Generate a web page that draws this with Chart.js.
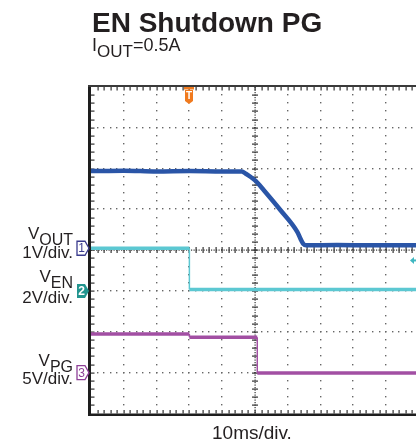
<!DOCTYPE html>
<html>
<head>
<meta charset="utf-8">
<script src="https://cdn.jsdelivr.net/npm/chart.js@4.4.0/dist/chart.umd.min.js"></script>
<style>
body { margin:0; background:#fff; }
#wrap { position:relative; width:416px; height:447px; overflow:hidden; font-family:"Liberation Sans", Arial, sans-serif; color:#231f20; }
#wrap canvas { position:absolute; left:0; top:0; }
.t { position:absolute; white-space:nowrap; line-height:1; }
.lab { right:343px; font-size:17px; text-align:right; }
.sub { position:relative; top:6px; font-size:16px; }
</style>
</head>
<body>
<div id="wrap">
<canvas id="graph" width="416" height="447"></canvas>
<div class="t" style="left:92px; top:9px; font-size:28px; font-weight:bold;">EN Shutdown PG</div>
<div class="t" style="left:92px; top:36px; font-size:18px;">I<span class="sub" style="font-size:17px;">OUT</span>=0.5A</div>
<div class="t lab" style="top:224.5px;">V<span class="sub">OUT</span></div>
<div class="t lab" style="top:244px;">1V/div.</div>
<div class="t lab" style="top:267.5px;">V<span class="sub">EN</span></div>
<div class="t lab" style="top:289px;">2V/div.</div>
<div class="t lab" style="top:352px;">V<span class="sub">PG</span></div>
<div class="t lab" style="top:370px;">5V/div.</div>
<div class="t" style="left:212px; top:423px; font-size:19px;">10ms/div.</div>
</div>
<script>
// time in divisions (10ms/div), level in divisions from the bottom of the screen
const x_max = 9.91;

const vout_x = [0, 1.0, 2.0, 3.0, 4.0, 4.6, 4.71, 4.86, 5.02, 5.27, 5.78, 6.29, 6.40, 6.47, 6.56, 7.5, 8.5, 9.91];
const vout_y = [5.94, 5.95, 5.93, 5.94, 5.93, 5.93, 5.88, 5.80, 5.70, 5.47, 4.98, 4.45, 4.26, 4.16, 4.12, 4.13, 4.12, 4.12];

const ven_x = [0, 3.0, 3.0, 9.91];
const ven_y = [4.05, 4.05, 3.04, 3.04];

const vpg_x = [0, 3.0, 3.0, 5.07, 5.07, 9.91];
const vpg_y = [1.95, 1.95, 1.87, 1.87, 0.99, 0.99];

// channel ground markers (division level) and trigger time
const ch_levels = [4.0, 3.0, 1.0];
const trig_x = 3.0;

function to_pts(xs, ys){
    return xs.map((x, i) => ({x: x, y: ys[i]}));
}

const thin_step = function(w){
    return (c) => c.p0.parsed.x === c.p1.parsed.x ? 1.5 : w;
};

const scope_grid = {
    id: "scope_grid",
    beforeDatasetsDraw(chart){
        const ctx = chart.ctx;
        const xs = chart.scales.x;
        const ys = chart.scales.y;
        const a = chart.chartArea;
        ctx.save();
        ctx.fillStyle = "#666";
        // dotted grid
        for (let i = 1; i < 10; i++){
            if (i === 5) continue;
            const px = Math.round(xs.getPixelForValue(i));
            for (let k = 1; k < 40; k++){
                const py = Math.round(ys.getPixelForValue(k / 5));
                ctx.fillRect(px - 1, py - 1, 1.4, 1.4);
            }
        }
        for (let j = 1; j < 8; j++){
            if (j === 4) continue;
            const py = Math.round(ys.getPixelForValue(j));
            for (let k = 1; k < 50; k++){
                const px = Math.round(xs.getPixelForValue(k / 5));
                if (px > a.right) break;
                ctx.fillRect(px - 1, py - 1, 1.4, 1.4);
            }
        }
        // center cross with small ticks
        const cx = Math.round(xs.getPixelForValue(5));
        const cy = Math.round(ys.getPixelForValue(4));
        ctx.fillStyle = "#333";
        for (let y = a.top; y < a.bottom; y += 2.5){
            ctx.fillRect(cx - 0.5, y, 1.2, 1.2);
        }
        for (let x = a.left; x < a.right; x += 2.5){
            ctx.fillRect(x, cy - 0.5, 1.2, 1.2);
        }
        for (let k = 1; k < 40; k++){
            const py = Math.round(ys.getPixelForValue(k / 5));
            ctx.fillRect(cx - 3, py - 0.5, 6, 1.2);
            ctx.fillRect(a.left, py - 0.5, 3.5, 1.2);
        }
        for (let k = 1; k < 50; k++){
            const px = Math.round(xs.getPixelForValue(k / 5));
            if (px > a.right) break;
            ctx.fillRect(px - 0.5, cy - 3, 1.2, 6);
            ctx.fillRect(px - 0.5, a.top, 1.2, 3.5);
            ctx.fillRect(px - 0.5, a.bottom - 3.5, 1.2, 3.5);
        }
        // frame
        ctx.fillStyle = "#1e1e1e";
        ctx.fillRect(a.left - 3, a.top - 2, 3, a.bottom - a.top + 4.5);
        ctx.fillStyle = "#3a3a3a";
        ctx.fillRect(a.left - 3, a.top - 2, a.right - a.left + 3, 2);
        ctx.fillStyle = "#1e1e1e";
        ctx.fillRect(a.left - 3, a.bottom, a.right - a.left + 3, 2.5);
        ctx.restore();
    },
    afterDatasetsDraw(chart){
        const ctx = chart.ctx;
        const xs = chart.scales.x;
        const ys = chart.scales.y;
        const a = chart.chartArea;
        ctx.save();
        // channel markers
        const cols = ["#3b3c8e", "#22958f", "#8e3f97"];
        const names = ["1", "2", "3"];
        for (let i = 0; i < 3; i++){
            const yc = ys.getPixelForValue(ch_levels[i]) - (i === 0 ? 2 : 0);
            ctx.beginPath();
            ctx.moveTo(77, yc - 7);
            ctx.lineTo(85, yc - 7);
            ctx.lineTo(89, yc);
            ctx.lineTo(85, yc + 7);
            ctx.lineTo(77, yc + 7);
            ctx.closePath();
            ctx.font = "12px 'Liberation Sans', Arial";
            ctx.textAlign = "center";
            ctx.textBaseline = "middle";
            if (i === 1){
                ctx.fillStyle = cols[i];
                ctx.fill();
                ctx.fillStyle = "#fff";
                ctx.font = "bold 12px 'Liberation Sans', Arial";
            } else {
                ctx.strokeStyle = cols[i];
                ctx.lineWidth = 1.3;
                ctx.stroke();
                ctx.fillStyle = cols[i];
            }
            ctx.fillText(names[i], 81.5, yc + 0.5);
        }
        // trigger marker
        const tx = Math.round(xs.getPixelForValue(trig_x));
        ctx.fillStyle = "#f07a1e";
        ctx.fillRect(tx - 5, a.top, 10, 2.5);
        ctx.beginPath();
        ctx.moveTo(tx - 4, a.top + 3);
        ctx.lineTo(tx + 4, a.top + 3);
        ctx.lineTo(tx + 4, a.top + 14);
        ctx.lineTo(tx, a.top + 17);
        ctx.lineTo(tx - 4, a.top + 14);
        ctx.closePath();
        ctx.fill();
        ctx.fillStyle = "#fff";
        ctx.font = "bold 10px 'Liberation Sans', Arial";
        ctx.textAlign = "center";
        ctx.textBaseline = "middle";
        ctx.fillText("T", tx, a.top + 9.5);
        // offset arrow at the right edge
        const ay = ys.getPixelForValue(3.75);
        ctx.fillStyle = "#3fb7c1";
        ctx.beginPath();
        ctx.moveTo(410, ay);
        ctx.lineTo(414, ay - 3.5);
        ctx.lineTo(414, ay + 3.5);
        ctx.closePath();
        ctx.fill();
        ctx.fillRect(413, ay - 1, 3, 2);
        ctx.restore();
    }
};

window.addEventListener("load", function(){
    const ctx = document.getElementById("graph").getContext("2d");
    new Chart(ctx, {
        type: "line",
        data: {
            datasets: [
                {
                    label: "VPG",
                    data: to_pts(vpg_x, vpg_y),
                    borderColor: "#a24fa3",
                    borderWidth: 3.5,
                    segment: { borderWidth: thin_step(3.5) },
                    pointRadius: 0,
                },
                {
                    label: "VEN",
                    data: to_pts(ven_x, ven_y),
                    borderColor: "#5cc8d2",
                    borderWidth: 3.5,
                    segment: { borderWidth: thin_step(3.5) },
                    pointRadius: 0,
                },
                {
                    label: "VOUT",
                    data: to_pts(vout_x, vout_y),
                    borderColor: "#2a55a7",
                    borderWidth: 4.5,
                    cubicInterpolationMode: "monotone",
                    pointRadius: 0,
                },
            ]
        },
        options: {
            responsive: false,
            animation: false,
            devicePixelRatio: 1,
            layout: { padding: { left: 91, top: 87, right: 0, bottom: 33.5 } },
            scales: {
                x: { type: "linear", min: 0, max: x_max, display: false },
                y: { min: 0, max: 8, display: false },
            },
            plugins: {
                legend: { display: false },
                tooltip: { enabled: false },
            },
        },
        plugins: [scope_grid]
    });
});
</script>
</body>
</html>
